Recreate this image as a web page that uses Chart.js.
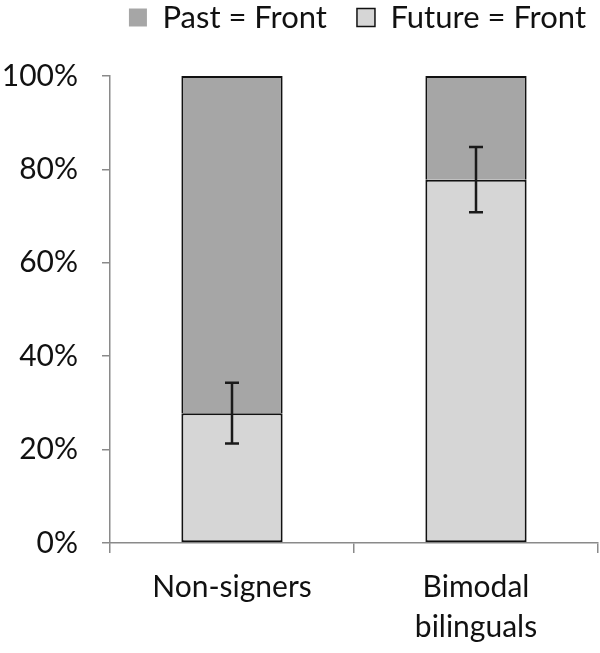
<!DOCTYPE html>
<html>
<head>
<meta charset="utf-8">
<script src="https://cdn.jsdelivr.net/npm/chart.js@4"></script>
<style>
  html, body { margin: 0; padding: 0; background: #fff; }
  #wrap { width: 600px; height: 653px; }
</style>
</head>
<body>
<div id="wrap"><canvas id="chart" width="600" height="653"></canvas></div>
<script>
const groups = [["Non-signers"], ["Bimodal", "bilinguals"]];
const futureFront = [27.8, 77.8];
const pastFront = [72.2, 22.2];
const futureError = [6.5, 7.0];
const yTicks = [0, 20, 40, 60, 80, 100];

const FONT = "Lato";

// error bars on top of the light (bottom) segment
const errorBars = {
    id: "errorBars",
    afterDatasetsDraw(chart) {
        const ctx = chart.ctx;
        const x = chart.scales.x, y = chart.scales.y;
        ctx.save();
        ctx.strokeStyle = "#1a1a1a";
        ctx.lineWidth = 2.5;
        futureFront.forEach(function (v, i) {
            const cx = x.getPixelForValue(i);
            const top = y.getPixelForValue(v + futureError[i]);
            const bot = y.getPixelForValue(v - futureError[i]);
            ctx.beginPath();
            ctx.moveTo(cx, top); ctx.lineTo(cx, bot);
            ctx.moveTo(cx - 7, top); ctx.lineTo(cx + 7, top);
            ctx.moveTo(cx - 7, bot); ctx.lineTo(cx + 7, bot);
            ctx.stroke();
        });
        ctx.restore();
    }
};

// push the plot area down below the legend, and nudge the legend right
const legendGap = {
    id: "legendGap",
    beforeInit(chart) {
        const fit = chart.legend.fit;
        chart.legend.fit = function () {
            fit.bind(chart.legend)();
            this.height += 33;
        };
    },
    afterLayout(chart) {
        chart.legend.left += 18;
        chart.legend.right += 18;
    }
};

new Chart(document.getElementById("chart").getContext("2d"), {
    type: "bar",
    data: {
        labels: groups,
        datasets: [
            { label: "Future = Front", data: futureFront, backgroundColor: "#d6d6d6",
              borderColor: "#111", borderWidth: 2, borderSkipped: false },
            { label: "Past = Front", data: pastFront, backgroundColor: "#a6a6a6",
              borderColor: "#111", borderWidth: 2, borderSkipped: "bottom" }
        ]
    },
    options: {
        responsive: false,
        animation: false,
        layout: { padding: { left: 0, right: 2, top: -28, bottom: 0 } },
        datasets: { bar: { barPercentage: 0.83, categoryPercentage: 0.5 } },
        scales: {
            x: {
                stacked: true,
                offset: true,
                border: { color: "#8a8a8a", width: 1.5 },
                grid: { display: true, drawOnChartArea: false, offset: true, tickLength: 10,
                        color: "#8a8a8a", lineWidth: 1.5 },
                ticks: { color: "#111", padding: 14, font: { family: FONT, size: 30, lineHeight: 1.33 } },
                afterFit: function (s) { s.height = 110; }
            },
            y: {
                stacked: true,
                min: 0, max: 100,
                afterBuildTicks: function (s) { s.ticks = yTicks.map(function (v) { return { value: v }; }); },
                border: { color: "#8a8a8a", width: 1.5 },
                grid: { display: true, drawOnChartArea: false, tickLength: 8,
                        color: "#8a8a8a", lineWidth: 1.5 },
                ticks: { color: "#111", padding: 24, font: { family: FONT, size: 30 },
                         callback: function (v) { return v + "%"; } },
                afterFit: function (s) { s.width = 110; }
            }
        },
        plugins: {
            legend: {
                display: true,
                reverse: true,
                align: "end",
                labels: {
                    color: "#111", boxWidth: 18, boxHeight: 18, padding: 30,
                    font: { family: FONT, size: 31 },
                    generateLabels: function (chart) {
                        const items = Chart.defaults.plugins.legend.labels.generateLabels(chart);
                        items.forEach(function (it) {
                            it.lineWidth = it.text === "Past = Front" ? 0 : 1.5;
                        });
                        return items;
                    }
                }
            },
            tooltip: { enabled: false }
        }
    },
    plugins: [errorBars, legendGap]
});
</script>
</body>
</html>
